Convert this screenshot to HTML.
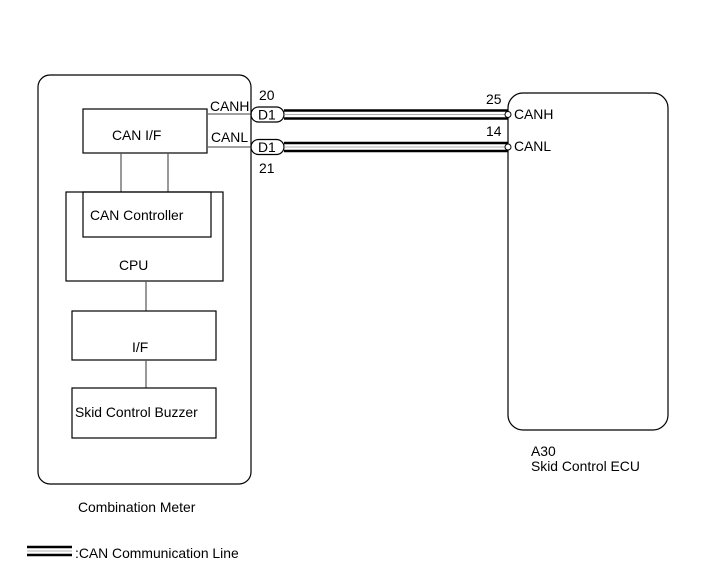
<!DOCTYPE html>
<html><head><meta charset="utf-8"><style>body{margin:0;background:#fff}svg{display:block}text{font-family:"Liberation Sans",Arial,sans-serif;font-size:13.9px;fill:#000}</style></head><body>
<svg width="713" height="581" viewBox="0 0 713 581" xmlns="http://www.w3.org/2000/svg">
<g fill="none" stroke="#000" stroke-width="1.2">
<rect x="38" y="75" width="213" height="409" rx="12"/>
<rect x="83" y="109" width="124" height="44"/>
<line x1="121" y1="153" x2="121" y2="192" stroke="#555"/>
<line x1="168" y1="153" x2="168" y2="192" stroke="#555"/>
<rect x="66" y="192" width="157" height="89"/>
<rect x="83" y="192" width="128" height="45"/>
<line x1="146" y1="281" x2="146" y2="311" stroke="#555"/>
<rect x="72" y="311" width="144" height="49"/>
<line x1="146" y1="360" x2="146" y2="388" stroke="#555"/>
<rect x="72" y="388" width="144" height="50"/>
<rect x="508" y="93" width="160" height="337" rx="15"/>
<line x1="207" y1="114" x2="251" y2="114" stroke="#666"/>
<line x1="207" y1="147" x2="251" y2="147" stroke="#666"/>
<rect x="251" y="107" width="33" height="15" rx="7.5"/>
<rect x="251" y="139.5" width="33" height="15" rx="7.5"/>
</g>
<g stroke="#000" stroke-width="2.5">
<line x1="284" y1="110.5" x2="508" y2="110.5"/>
<line x1="284" y1="118.5" x2="508" y2="118.5"/>
<line x1="284" y1="143" x2="508" y2="143"/>
<line x1="284" y1="151" x2="508" y2="151"/>
<line x1="27" y1="547" x2="72" y2="547"/>
<line x1="27" y1="555" x2="72" y2="555"/>
</g>
<g stroke="#999" stroke-width="0.8">
<line x1="284" y1="114.5" x2="508" y2="114.5"/>
<line x1="284" y1="147" x2="508" y2="147"/>
<line x1="27" y1="551" x2="72" y2="551"/>
</g>
<circle cx="508" cy="114.5" r="3" fill="#fff" stroke="#000"/>
<circle cx="508" cy="147" r="3" fill="#fff" stroke="#000"/>
<text x="112" y="140">CAN I/F</text>
<text x="90" y="220">CAN Controller</text>
<text x="119" y="270">CPU</text>
<text x="132" y="352">I/F</text>
<text x="75" y="417">Skid Control Buzzer</text>
<text x="78" y="512">Combination Meter</text>
<text x="210" y="111">CANH</text>
<text x="211" y="142">CANL</text>
<text x="259" y="100">20</text>
<text x="259" y="173">21</text>
<text x="258" y="119.5">D1</text>
<text x="258" y="152">D1</text>
<text x="486" y="104">25</text>
<text x="486" y="136">14</text>
<text x="514" y="119">CANH</text>
<text x="514" y="151">CANL</text>
<text x="531" y="456">A30</text>
<text x="531" y="471">Skid Control ECU</text>
<text x="75" y="558">:CAN Communication Line</text>
</svg>
</body></html>
